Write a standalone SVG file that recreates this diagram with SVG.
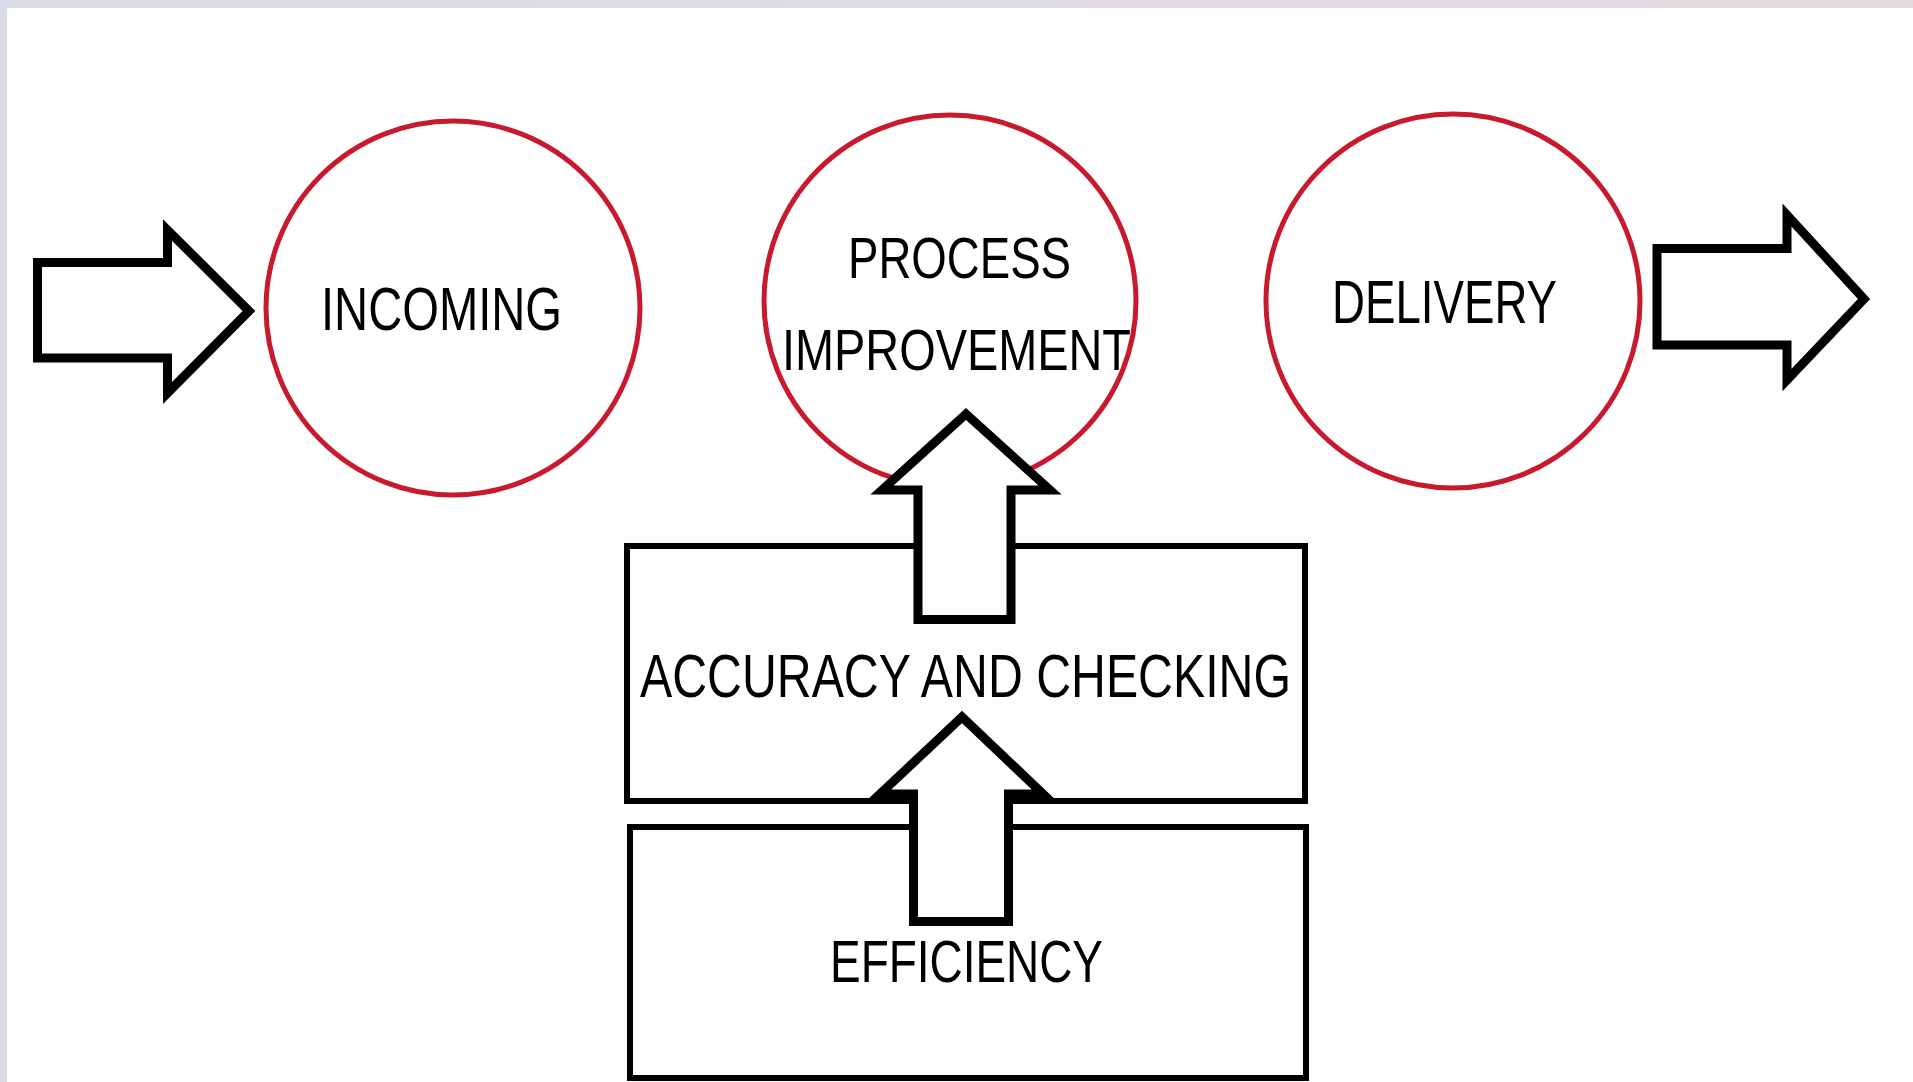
<svg xmlns="http://www.w3.org/2000/svg" width="1913" height="1082" viewBox="0 0 1913 1082">
  <defs>
    <linearGradient id="band" x1="0" y1="0" x2="1" y2="0">
      <stop offset="0" stop-color="#d9dce7"/>
      <stop offset="1" stop-color="#e8dae3"/>
    </linearGradient>
    <style>
      .ring { fill: #ffffff; stroke: #c8192e; stroke-width: 5; }
      .box { fill: #ffffff; stroke: #000000; stroke-width: 6; }
      .blk { fill: #ffffff; stroke: #000000; stroke-width: 9; stroke-linejoin: miter; stroke-miterlimit: 10; }
      .lbl { font-family: "Liberation Sans", "DejaVu Sans", sans-serif; fill: #000000; }
    </style>
  </defs>

  <rect x="0" y="0" width="1913" height="1082" fill="#ffffff"/>
  <rect x="0" y="0" width="1913" height="8" fill="url(#band)"/>
  <rect x="0" y="0" width="7" height="1082" fill="#d9dce7"/>

  <g id="node-incoming">
    <circle class="ring" cx="453" cy="308" r="187"/>
    <text class="lbl" x="321" y="330" font-size="61" textLength="241" lengthAdjust="spacingAndGlyphs">INCOMING</text>
  </g>

  <g id="node-process-improvement">
    <circle class="ring" cx="950" cy="301" r="186"/>
    <text class="lbl" x="848" y="278" font-size="58" textLength="223" lengthAdjust="spacingAndGlyphs">PROCESS</text>
    <text class="lbl" x="782" y="370" font-size="58" textLength="349" lengthAdjust="spacingAndGlyphs">IMPROVEMENT</text>
  </g>

  <g id="node-delivery">
    <circle class="ring" cx="1453" cy="301" r="187"/>
    <text class="lbl" x="1332" y="323" font-size="62" textLength="225" lengthAdjust="spacingAndGlyphs">DELIVERY</text>
  </g>

  <g id="node-accuracy">
    <rect class="box" x="627" y="546" width="678" height="255"/>
    <text class="lbl" x="640" y="697" font-size="61" textLength="651" lengthAdjust="spacingAndGlyphs">ACCURACY AND CHECKING</text>
  </g>

  <g id="node-efficiency">
    <rect class="box" x="630" y="827" width="676" height="251"/>
    <text class="lbl" x="830" y="982" font-size="60" textLength="273" lengthAdjust="spacingAndGlyphs">EFFICIENCY</text>
  </g>

  <g id="connectors">
    <polygon id="arrow-in" class="blk" points="37.5,262.5 167.5,262.5 167.5,230 249,311 167.5,393 167.5,358 37.5,358"/>
    <polygon id="arrow-out" class="blk" points="1657,248.5 1787,248.5 1787,215 1864,299 1787,380 1787,345 1657,345"/>
    <polygon id="arrow-accuracy-to-process" class="blk" points="918,619.5 918,490 882,490 966,414 1050,490 1011,490 1011,619.5"/>
    <polygon id="arrow-efficiency-to-accuracy" class="blk" points="913.5,921.5 913.5,794 880,794 962,717 1043,794 1008.5,794 1008.5,921.5"/>
  </g>
</svg>
